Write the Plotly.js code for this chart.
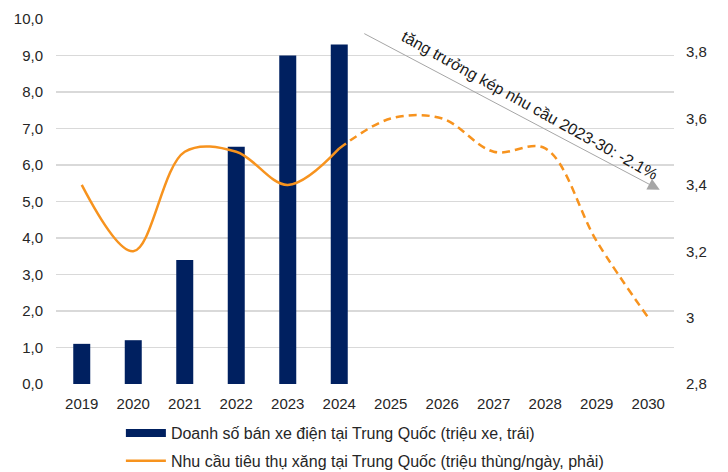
<!DOCTYPE html>
<html>
<head>
<meta charset="utf-8">
<script src="https://cdn.plot.ly/plotly-3.0.1.min.js"></script>
<style>html,body{margin:0;padding:0;background:#fff;}</style>
</head>
<body>
<div id="chart" style="width:728px;height:472px;"></div>
<script>
var years = ['2019','2020','2021','2022','2023','2024','2025','2026','2027','2028','2029','2030'];
var evSales = [1.1, 1.2, 3.4, 6.5, 9.0, 9.3, null, null, null, null, null, null];
var gasolineActual = [3.40, 3.20, 3.50, 3.50, 3.40, 3.51, null, null, null, null, null, null];
var gasolineForecast = [null, null, null, null, null, 3.51, 3.60, 3.60, 3.50, 3.51, 3.23, 3.00];
var leftTicks = [0,1,2,3,4,5,6,7,8,9,10];
var rightTickVals = [2.8, 3.0, 3.2, 3.4, 3.6, 3.8];
var rightTickText = ['2,8', '3', '3,2', '3,4', '3,6', '3,8'];
var evLabel = 'Doanh số bán xe điện tại Trung Quốc (triệu xe, trái)';
var gasLabel = 'Nhu cầu tiêu thụ xăng tại Trung Quốc (triệu thùng/ngày, phải)';
var arrowText = 'tăng trưởng kép nhu cầu 2023-30: -2.1%';

var navy = '#002060';
var orange = '#F7931E';
var font = 'Liberation Sans, Arial, sans-serif';

var traces = [
  {type:'bar', x:years, y:evSales, marker:{color:navy}, width:0.33, showlegend:false, hoverinfo:'skip'},
  {type:'scatter', mode:'lines', x:[null], y:[null], name:evLabel, line:{color:navy, width:8}, legendgroup:'a'},
  {type:'scatter', mode:'lines', x:years, y:gasolineActual, yaxis:'y2', name:gasLabel, legendgroup:'b',
   line:{color:orange, width:2.5, shape:'spline', smoothing:1}, connectgaps:false},
  {type:'scatter', mode:'lines', x:years, y:gasolineForecast, yaxis:'y2', showlegend:false,
   line:{color:orange, width:2.5, shape:'spline', smoothing:1, dash:'8px,5px'}, connectgaps:false}
];

var layout = {
  width:728, height:472,
  margin:{l:56, r:54, t:19, b:88, autoexpand:false},
  paper_bgcolor:'#fff', plot_bgcolor:'#fff',
  separators:',.',
  font:{family:font, size:15, color:'#262626'},
  xaxis:{type:'category', showgrid:false, zeroline:false, showline:false, ticks:'',
         tickfont:{size:15}, range:[-0.5, 11.5], automargin:false, ticklabelstandoff:9},
  yaxis:{range:[0,10], tickvals:leftTicks, tickformat:'.1f', showgrid:true, gridcolor:'#d9d9d9', gridwidth:1.5,
         zeroline:false, showline:false, ticks:'', tickfont:{size:15}, ticklabelstandoff:12, automargin:false},
  yaxis2:{range:[2.8,3.9], overlaying:'y', side:'right', tickvals:rightTickVals, ticktext:rightTickText,
          showgrid:false, zeroline:false, showline:false, ticks:'', tickfont:{size:15}, ticklabelstandoff:11, automargin:false},
  legend:{orientation:'v', x:0.105, xanchor:'left', yref:'container', y:1 - 416/472, yanchor:'top',
          font:{size:16, color:'#262626'}, traceorder:'grouped', tracegroupgap:4, itemwidth:40,
          bgcolor:'rgba(0,0,0,0)'},
  annotations:[
    {xref:'paper', yref:'paper', x:0.977, y:0.532, ax:-297, ay:-157, axref:'pixel', ayref:'pixel',
     showarrow:true, arrowhead:2, arrowsize:2.4, arrowwidth:1, arrowcolor:'#a6a6a6', text:''},
    {xref:'paper', yref:'paper', x:0.767, y:0.764, text:arrowText, showarrow:false, textangle:29,
     xanchor:'center', yanchor:'middle', font:{size:16, color:'#1a1a1a'}}
  ]
};

Plotly.newPlot('chart', traces, layout, {displayModeBar:false, staticPlot:true});
</script>
</body>
</html>
